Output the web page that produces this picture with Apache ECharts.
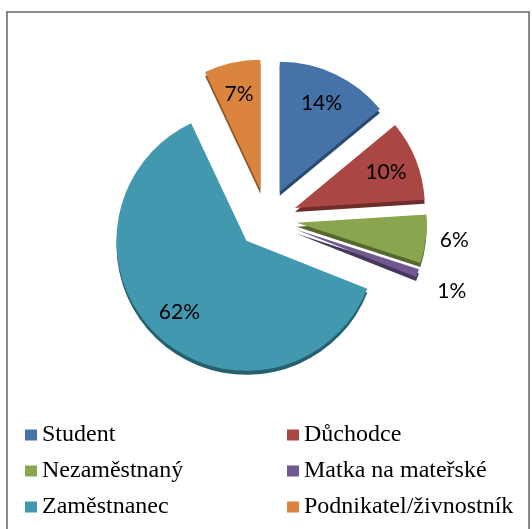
<!DOCTYPE html>
<html><head><meta charset="utf-8">
<script src="https://cdn.jsdelivr.net/npm/echarts@6/dist/echarts.min.js"></script>
<style>html,body{margin:0;padding:0;background:#fff}#c{width:532px;height:529px}</style>
</head><body><div id="c"></div>
<script>
const categories = ['Student', 'Důchodce', 'Nezaměstnaný', 'Matka na mateřské', 'Zaměstnanec', 'Podnikatel/živnostník'];
const values = [14, 10, 6, 1, 62, 7];

const colors = ['#4572A7', '#AA4643', '#89A54E', '#71588F', '#4198AF', '#DB843D'];
const edgeColors = ['#2C4A70', '#6E2C2A', '#55692F', '#45365C', '#25606F', '#8E5424'];
const outsideLabel = [false, false, true, true, false, false];
const labelShift = [[0, 0], [0, 0], [5, 1], [11, 17], [0, 0], [0, 0]];

const chart = echarts.init(document.getElementById('c'), null, {renderer: 'canvas'});

const mainData = categories.map((n, i) => ({
  name: n, value: values[i], selected: true,
  itemStyle: {color: colors[i], shadowColor: edgeColors[i], shadowOffsetY: 4, shadowOffsetX: 0, shadowBlur: 0}
}));
const labelData = categories.map((n, i) => ({
  name: n, value: values[i], selected: true,
  label: {position: outsideLabel[i] ? 'outside' : 'inside'}
}));

const serif = '"Liberation Serif", "Times New Roman", serif';

chart.setOption({
  animation: false,
  graphic: [{type: 'rect', shape: {x: 7, y: 12, width: 522, height: 530}, style: {fill: 'none', stroke: '#8a8a8a', lineWidth: 2}, silent: true}],
  legend: {
    orient: 'horizontal', icon: 'rect', itemWidth: 12, itemHeight: 11, itemGap: 12,
    top: 423, left: 25, width: 515, padding: 0, selectedMode: false,
    textStyle: {fontFamily: serif, fontSize: 24, lineHeight: 17, width: 233, color: '#000'},
    data: categories
  },
  series: [
    {
      type: 'pie', center: [267, 219], radius: [0, 130], startAngle: 90, clockwise: true,
      selectedMode: 'multiple', selectedOffset: 30, z: 2,
      label: {show: false}, labelLine: {show: false},
      emphasis: {disabled: true},
      data: mainData
    },
    {
      type: 'pie', center: [267, 219], radius: [60, 130], startAngle: 90, clockwise: true,
      selectedMode: 'multiple', selectedOffset: 30, z: 3, silent: true,
      itemStyle: {color: 'rgba(0,0,0,0)'},
      emphasis: {disabled: true},
      label: {show: true, formatter: '{c}%', fontFamily: 'Lato', fontSize: 21, color: '#000'},
      labelLine: {show: false, length: 4, length2: 0},
      labelLayout: function (p) { return {dx: labelShift[p.dataIndex][0], dy: labelShift[p.dataIndex][1]}; },
      data: labelData
    }
  ]
});
</script></body></html>
